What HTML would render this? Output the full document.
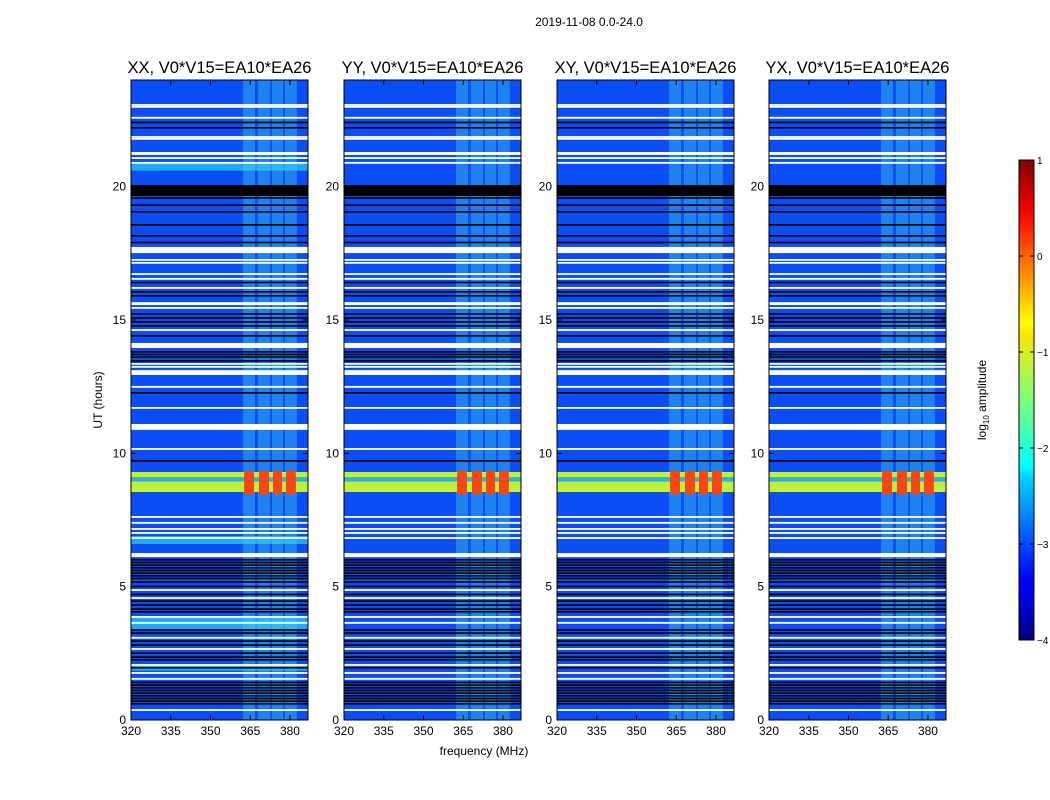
<!DOCTYPE html>
<html><head><meta charset="utf-8"><style>
body{margin:0;background:#fff;}
svg{display:block;font-family:"Liberation Sans",sans-serif;}
</style></head><body>
<svg id="fig" width="1050" height="800"></svg>
<script>
const titles=["XX, V0*V15=EA10*EA26","YY, V0*V15=EA10*EA26","XY, V0*V15=EA10*EA26","YX, V0*V15=EA10*EA26"];
const panelLeft=[131,344,557,769];
const xTicks=[320,335,350,365,380];
const yTicks=[0,5,10,15,20];
const whiteThin=[23.06,22.99,22.58,21.86,21.79,21.07,20.89,17.25,17.14,16.72,16.54,16.2,15.45,14.62,13.35,13.24,12.49,11.7,10.16,7.61,7.39,7.16,7.01,6.82,4.87,4.57,3.86,3.64,3.08,2.66,2.06,1.76,1.54,0.37];
const whiteThick=[[21.19,21.3],[17.51,17.74],[15.56,15.67],[13.95,14.14],[12.94,13.12],[10.88,11.1],[6.11,6.26]];
const blackThick=[[19.65,20.06]];
const blackThin=[22.4,22.2,19.57,19.3,19.05,18.56,18.15,17.9,16.4,16.05,15.9,15.22,15.07,14.92,14.77,14.4,13.8,13.7,13.6,13.46,12.26,9.71,6.0,5.9,5.8,5.7,5.6,5.5,5.4,5.3,5.17,5.0,4.7,4.45,4.3,4.15,4.05,3.37,3.25,2.95,2.8,2.5,2.35,2.25,1.95,1.4,1.3,1.2,1.1,1.0,0.9,0.8,0.7,0.6];
const lightRows=[[20.6,20.9],[6.6,6.9],[3.4,3.9],[1.85,2.1]];
const rfiBands=[[362.3,366.8],[367.9,372.5],[373.2,377.4],[378.1,382.6]];
const strongYellow=[[9.1,9.3],[8.55,8.95]];
const strongRows=[8.45,9.35];
const fMin=320,fMax=386.8,tMin=0,tMax=24;
const yTop=80,yBot=720,W=177;
const NS="http://www.w3.org/2000/svg";
const svg=document.getElementById('fig');
function mk(tag,attrs,parent){const e=document.createElementNS(NS,tag);for(const k in attrs)e.setAttribute(k,attrs[k]);(parent||svg).appendChild(e);return e;}
function yS(h){return yBot-(h-tMin)/(tMax-tMin)*(yBot-yTop);}
function text(x,y,s,anchor,size,parent){const t=mk('text',{x:x,y:y,'text-anchor':anchor||'middle','font-size':size||12,fill:'#000'},parent);t.textContent=s;return t;}

const sup=text(589,26,"2019-11-08 0.0-24.0",'middle',12);



panelLeft.forEach((L,pi)=>{
  const xS=f=>L+(f-fMin)/(fMax-fMin)*W;
  const g=mk('g',{});
  
  
  const bg=mk('rect',{x:L,y:yTop,width:W,height:yBot-yTop,fill:'rgb(12,78,245)'},g);
  
  
  if(pi===0){lightRows.forEach(r=>{const e=mk('rect',{x:L,y:yS(r[1]),width:W,height:yS(r[0])-yS(r[1]),fill:'rgb(30,170,245)'},g);
    
    });}
  rfiBands.forEach(b=>{const e=mk('rect',{x:xS(b[0]),y:yTop,width:xS(b[1])-xS(b[0]),height:yBot-yTop,fill:'rgba(60,210,235,0.4)'},g);
    
    });
  strongYellow.forEach(r=>{const e=mk('rect',{x:L,y:yS(r[1]),width:W,height:yS(r[0])-yS(r[1]),fill:'rgb(190,240,60)'},g);
    
    });
  const mid=mk('rect',{x:L,y:yS(9.1),width:W,height:yS(8.95)-yS(9.1),fill:'rgb(40,180,220)'},g);
  
  
  rfiBands.forEach(b=>{const e=mk('rect',{x:xS(b[0])+1,y:yS(strongRows[1]),width:xS(b[1])-xS(b[0])-2,height:yS(strongRows[0])-yS(strongRows[1]),rx:3,fill:'rgb(245,70,20)'},g);
    
    });
  blackThick.forEach(r=>{const e=mk('rect',{x:L,y:yS(r[1]),width:W,height:yS(r[0])-yS(r[1]),fill:'#000'},g);
    
    });
  blackThin.forEach(h=>{const e=mk('rect',{x:L,y:yS(h)-1,width:W,height:1.6,fill:'#000'},g);
    
    });
  whiteThick.forEach(r=>{const e=mk('rect',{x:L,y:yS(r[1]),width:W,height:yS(r[0])-yS(r[1]),fill:'#fff'},g);
    
    });
  whiteThin.forEach(h=>{const e=mk('rect',{x:L,y:yS(h)-1,width:W,height:1.8,fill:'#fff'},g);
    
    });
  const fr=mk('rect',{x:L,y:yTop,width:W,height:yBot-yTop,fill:'none',stroke:'#000','stroke-width':1},g);
  
  
  xTicks.forEach(v=>{const x=xS(v);
    mk('line',{x1:x,x2:x,y1:yBot,y2:yBot-5,stroke:'#000'},g);mk('line',{x1:x,x2:x,y1:yTop,y2:yTop+5,stroke:'#000'},g);
    const t=text(x,yBot+15,String(v),'middle',12,g);
    
    });
  yTicks.forEach(v=>{const y=yS(v);
    mk('line',{x1:L,x2:L+5,y1:y,y2:y,stroke:'#000'},g);mk('line',{x1:L+W-5,x2:L+W,y1:y,y2:y,stroke:'#000'},g);
    const t=text(L-5,y+4,String(v),'end',12,g);
    
    });
  const tt=text(L+W/2,73,titles[pi],'middle',16.5,g);
  
  
});
const xl=text(484,755,"frequency (MHz)",'middle',12);


const yl=text(0,0,"UT (hours)",'middle',12);
yl.setAttribute('transform','translate(102,400) rotate(-90)');



const cbTicks=[1,0,-1,-2,-3,-4];
const cbLabels=["1","0","\u22121","\u22122","\u22123","\u22124"];
const defs=mk('defs',{});
const grad=mk('linearGradient',{id:'jet',x1:0,y1:1,x2:0,y2:0},defs);
[["0","#00007f"],["0.11","#0000ff"],["0.125","#0000ff"],["0.34","#00d4ff"],["0.36","#0ff"],["0.5","#7dff7a"],["0.64","#ffe600"],["0.66","#ff0"],["0.89","#f00"],["1","#7f0000"]].forEach(s=>mk('stop',{offset:s[0],'stop-color':s[1]},grad));
const cb=mk('rect',{x:1019,y:160,width:15,height:480,fill:'url(#jet)',stroke:'#000'});


cbTicks.forEach((v,i)=>{const y=160+(1-v)/5*480;
  mk('line',{x1:1019,x2:1023,y1:y,y2:y,stroke:'#000'});mk('line',{x1:1030,x2:1034,y1:y,y2:y,stroke:'#000'});
  const t=text(1037,y+4,cbLabels[i],'start',10);
  
  });
const cl=mk('text',{transform:'translate(986,400) rotate(-90)','text-anchor':'middle','font-size':12});
cl.innerHTML='log<tspan font-size="8" dy="3">10</tspan><tspan dy="-3"> amplitude</tspan>';


</script>
</body></html>
